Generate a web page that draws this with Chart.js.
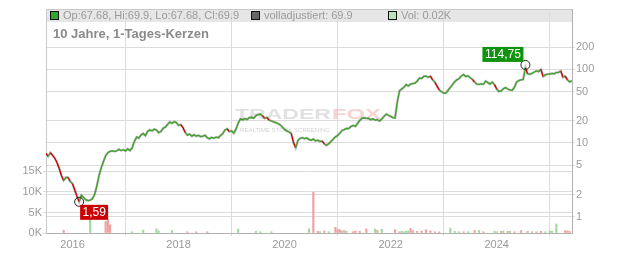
<!DOCTYPE html>
<html>
<head>
<meta charset="utf-8">
<script src="https://cdn.jsdelivr.net/npm/chart.js@4.4.1/dist/chart.umd.min.js"></script>
<style>
  html, body { margin: 0; padding: 0; background: #fff; }
  #wrap { width: 632px; height: 253px; position: relative; }
</style>
</head>
<body>
<div id="wrap"><canvas id="myChart"></canvas></div>
<script>
// half-month periods, first one is July 2015
const startYear = 2015.5;
const periodsPerYear = 24;

// closing prices, one row per calendar year
const prices = [
  7.2, 6.6, 7.4, 6.8, 6.2, 5.4, 4.5, 3.6, 3.1, 3.4, 3.4, 3.0,
  2.8, 2.3, 1.9, 1.59, 1.95, 1.82, 1.7, 1.65, 1.68, 1.75, 2.0, 2.6, 3.6, 4.6, 5.6, 6.7, 7.4, 7.7, 7.8, 7.7, 7.8, 8.2, 7.9, 8.1,
  7.8, 8.3, 7.9, 8.6, 10.5, 12.0, 11.7, 12.8, 13.4, 12.6, 14.4, 15.0, 14.6, 15.4, 15.0, 13.8, 14.3, 15.8, 16.4, 17.8, 19.2, 18.5, 19.4, 18.9,
  17.4, 17.8, 16.2, 13.9, 12.8, 13.2, 12.4, 12.9, 12.4, 12.7, 12.2, 12.4, 12.7, 11.8, 11.4, 11.9, 11.6, 12.0, 11.8, 12.6, 13.4, 15.0, 15.6, 14.3,
  14.6, 13.6, 15.4, 18.6, 21.2, 20.6, 21.4, 20.9, 22.1, 22.3, 21.7, 23.4, 24.3, 24.6, 23.5, 21.6, 22.2, 20.4, 20.0, 19.3, 18.9, 18.4, 17.6, 16.4,
  15.3, 14.6, 14.1, 13.5, 10.2, 8.6, 10.8, 11.6, 11.8, 11.5, 11.7, 11.2, 10.9, 11.3, 10.7, 10.9, 10.5, 10.6, 9.7, 9.3, 9.8, 10.5, 11.3, 12.1,
  12.6, 13.6, 14.8, 15.2, 15.8, 15.7, 16.7, 17.3, 16.8, 18.4, 20.2, 21.6, 22.0, 21.7, 21.5, 20.7, 21.3, 20.5, 20.7, 19.9, 21.2, 23.0, 24.6, 23.8,
  23.0, 22.1, 21.9, 36.0, 51.0, 54.0, 57.0, 62.0, 59.5, 63.0, 64.0, 65.0, 69.0, 76.0, 75.0, 80.0, 81.0, 78.0, 81.0, 72.0, 67.0, 59.0, 52.5, 49.5,
  47.5, 47.5, 52.0, 57.0, 62.0, 68.0, 72.0, 75.0, 81.0, 85.0, 80.0, 81.5, 77.0, 73.0, 67.0, 63.0, 62.5, 63.5, 63.0, 69.0, 66.0, 63.0, 67.0, 62.0,
  54.0, 50.0, 51.0, 54.5, 56.5, 54.0, 52.5, 52.0, 57.0, 67.0, 70.5, 72.0, 73.0, 105.0, 87.0, 86.0, 88.0, 92.0, 95.0, 93.0, 100.0, 80.0, 84.0, 86.0,
  86.0, 88.0, 87.0, 90.5, 91.0, 95.0, 78.0, 81.0, 72.0, 67.5, 69.9
];

// volume (thousands), by period index
const upPeriods = [20, 39, 44, 50, 51, 57, 87, 95, 97, 102, 119, 124, 128, 134, 136, 149, 152, 161, 162, 163, 164, 183, 185, 187, 191, 196, 203, 204, 207, 210, 220, 226, 228, 229, 231];
const upVolK = [3.3, 0.3, 0.7, 1.0, 0.5, 0.6, 1.0, 0.4, 0.3, 0.3, 1.0, 0.3, 0.3, 0.5, 0.4, 1.0, 0.9, 0.4, 0.3, 0.4, 0.5, 1.2, 0.4, 0.3, 0.3, 0.6, 0.4, 0.3, 0.5, 0.4, 0.3, 0.3, 0.5, 0.4, 2.2];
const downPeriods = [8, 27, 28, 29, 64, 68, 73, 121, 123, 126, 131, 132, 133, 135, 139, 140, 142, 145, 150, 158, 160, 165, 166, 168, 170, 172, 174, 176, 178, 189, 194, 198, 206, 209, 212, 215, 218, 222, 224, 235, 236, 237];
const downVolK = [0.65, 2.8, 3.2, 2.0, 0.3, 0.3, 0.3, 9.9, 0.4, 0.5, 1.4, 0.9, 0.8, 0.6, 0.3, 0.5, 0.4, 1.0, 0.6, 0.8, 0.3, 1.1, 0.6, 0.4, 0.5, 0.8, 0.5, 0.3, 0.3, 0.3, 0.6, 0.3, 0.4, 0.4, 0.3, 0.6, 0.4, 0.3, 0.4, 0.6, 0.5, 0.4];

// low / high markers
const markerPeriods = [15, 217];
const markerValues = [1.59, 114.75];

const yearTicks = [2016, 2018, 2020, 2022, 2024];
const priceTicks = [1, 2, 5, 10, 20, 50, 100, 200];
const volTicks = [0, 5, 10, 15];

const ohlc = [67.68, 69.9, 67.68, 69.9];
const lastVolK = 0.02;

const toX = p => startYear + p / periodsPerYear;
const priceData = prices.map((v, i) => ({ x: toX(i), y: v }));
const upData = upPeriods.map((p, i) => ({ x: toX(p), y: upVolK[i] }));
const downData = downPeriods.map((p, i) => ({ x: toX(p), y: downVolK[i] }));

const FONT = '"Liberation Sans", Arial, sans-serif';
const GREEN = "#40a02a";
const RED = "#cc0000";
const GRID = "#dcdcdc";
const LABEL = "#9a9a9a";

// draws "text" squeezed/stretched between x0 and x1
function wideText(c, text, x0, x1, y) {
  const w = c.measureText(text).width;
  c.save();
  c.translate(x0, y);
  c.scale((x1 - x0) / w, 1);
  c.fillText(text, 0, 0);
  c.restore();
}

const decor = {
  id: "decor",
  beforeDraw(chart) {
    const { ctx, chartArea: a } = chart;
    ctx.save();
    ctx.fillStyle = "#e6e6e6";
    ctx.fillRect(a.left, a.top, a.right - a.left, 13);
    ctx.restore();
  },
  beforeDatasetsDraw(chart) {
    const { ctx } = chart;
    ctx.save();
    ctx.font = "bold 14px " + FONT;
    ctx.textBaseline = "alphabetic";
    ctx.fillStyle = "rgba(205,205,205,0.6)";
    wideText(ctx, "TRADER", 235, 331, 119);
    ctx.fillStyle = "rgba(240,165,165,0.5)";
    wideText(ctx, "FOX", 332, 381, 119);
    ctx.font = "6px " + FONT;
    ctx.fillStyle = "rgba(195,195,195,0.75)";
    wideText(ctx, "REALTIME STOCK SCREENING", 240, 330, 132);
    ctx.restore();
  },
  afterDatasetsDraw(chart) {
    const { ctx } = chart;
    const xs = chart.scales.x, ys = chart.scales.y;
    const boxColors = [RED, "#109410"];
    ctx.save();
    markerPeriods.forEach((p, k) => {
      const cx = xs.getPixelForValue(toX(p));
      const cy = ys.getPixelForValue(markerValues[k]);
      ctx.beginPath();
      ctx.arc(cx, cy, 4.5, 0, Math.PI * 2);
      ctx.strokeStyle = "#222";
      ctx.lineWidth = 1;
      ctx.stroke();
      const txt = markerValues[k].toFixed(2).replace(".", ",");
      ctx.font = "12px " + FONT;
      const w = Math.round(ctx.measureText(txt).width + 5);
      const h = 15;
      let bx, by;
      if (k === 0) { bx = cx + 1; by = cy + 3; }
      else { bx = cx - 2 - w; by = cy - 3 - h; }
      ctx.fillStyle = boxColors[k];
      ctx.fillRect(bx, by, w, h);
      ctx.fillStyle = "#fff";
      ctx.textBaseline = "middle";
      ctx.textAlign = "center";
      ctx.fillText(txt, bx + w / 2, by + h / 2 + 0.5);
    });
    ctx.restore();
  },
  afterDraw(chart) {
    const { ctx, chartArea: a } = chart;
    ctx.save();
    ctx.strokeStyle = "#c8c8c8";
    ctx.lineWidth = 1;
    ctx.beginPath();
    ctx.moveTo(a.left, a.top + 0.5);
    ctx.lineTo(a.right, a.top + 0.5);
    ctx.stroke();

    // legend row
    const items = [
      { x: 50, fill: "#2ea82e", text: "Op:" + ohlc[0] + ", Hi:" + ohlc[1] + ", Lo:" + ohlc[2] + ", Cl:" + ohlc[3] },
      { x: 251, fill: "#666", text: "volladjustiert: " + ohlc[3] },
      { x: 388, fill: "#b8e4b8", text: "Vol: " + lastVolK.toFixed(2) + "K" }
    ];
    ctx.font = "11px " + FONT;
    ctx.textBaseline = "middle";
    items.forEach(it => {
      ctx.fillStyle = it.fill;
      ctx.fillRect(it.x + 0.5, a.top + 2.5, 8, 8);
      ctx.strokeStyle = "#111";
      ctx.strokeRect(it.x + 0.5, a.top + 2.5, 8, 8);
      ctx.fillStyle = LABEL;
      ctx.fillText(it.text, it.x + 13, a.top + 7);
    });

    ctx.font = "bold 13px " + FONT;
    ctx.fillStyle = "#8a8a8a";
    ctx.fillText("10 Jahre, 1-Tages-Kerzen", 53, a.top + 25);
    ctx.restore();
  }
};

const ctx = document.getElementById("myChart");

new Chart(ctx, {
  type: "bar",
  data: {
    datasets: [
      {
        type: "line",
        data: priceData,
        yAxisID: "y",
        borderColor: GREEN,
        borderWidth: 1.3,
        pointRadius: 0,
        tension: 0,
        order: 0,
        segment: {
          borderColor: c => (c.p1.parsed.y < c.p0.parsed.y * 0.92 ? RED : GREEN)
        }
      },
      {
        type: "line",
        data: priceData,
        yAxisID: "y",
        borderColor: "rgba(130,130,130,0.5)",
        borderWidth: 2.4,
        pointRadius: 0,
        tension: 0,
        order: 1
      },
      {
        data: upData,
        yAxisID: "yVol",
        backgroundColor: "#9fd89f",
        barThickness: 1.5,
        grouped: false,
        order: 2
      },
      {
        data: downData,
        yAxisID: "yVol",
        backgroundColor: "#f0a0a0",
        barThickness: 1.5,
        grouped: false,
        order: 2
      }
    ]
  },
  options: {
    responsive: true,
    maintainAspectRatio: false,
    animation: false,
    events: [],
    layout: { padding: { top: 9, left: 0, right: 0, bottom: 0 } },
    plugins: {
      legend: { display: false },
      tooltip: { enabled: false }
    },
    scales: {
      x: {
        type: "linear",
        min: 2015.5,
        max: 2025.42,
        offset: false,
        afterBuildTicks: s => { s.ticks = yearTicks.map(v => ({ value: v })); },
        afterFit: s => { s.height = 20; },
        ticks: {
          color: LABEL,
          font: { family: FONT, size: 11 },
          padding: 2,
          maxRotation: 0,
          callback: v => String(v)
        },
        grid: { color: GRID, tickLength: 3 },
        border: { color: "#b0b0b0" }
      },
      y: {
        type: "logarithmic",
        position: "right",
        min: 0.649,
        max: 659,
        afterBuildTicks: s => { s.ticks = priceTicks.map(v => ({ value: v })); },
        afterFit: s => { s.width = 60; },
        ticks: {
          color: LABEL,
          font: { family: FONT, size: 11 },
          padding: 1,
          callback: v => String(v)
        },
        grid: { color: GRID, tickLength: 3 },
        border: { color: "#b0b0b0" }
      },
      yVol: {
        type: "linear",
        position: "left",
        min: 0,
        max: 54.6,
        afterBuildTicks: s => { s.ticks = volTicks.map(v => ({ value: v })); },
        afterFit: s => { s.width = 46; },
        ticks: {
          color: LABEL,
          font: { family: FONT, size: 11 },
          padding: 1,
          callback: v => v + "K"
        },
        grid: { color: GRID, tickLength: 3 },
        border: { color: "#c8c8c8" }
      }
    }
  },
  plugins: [decor]
});
</script>
</body>
</html>
